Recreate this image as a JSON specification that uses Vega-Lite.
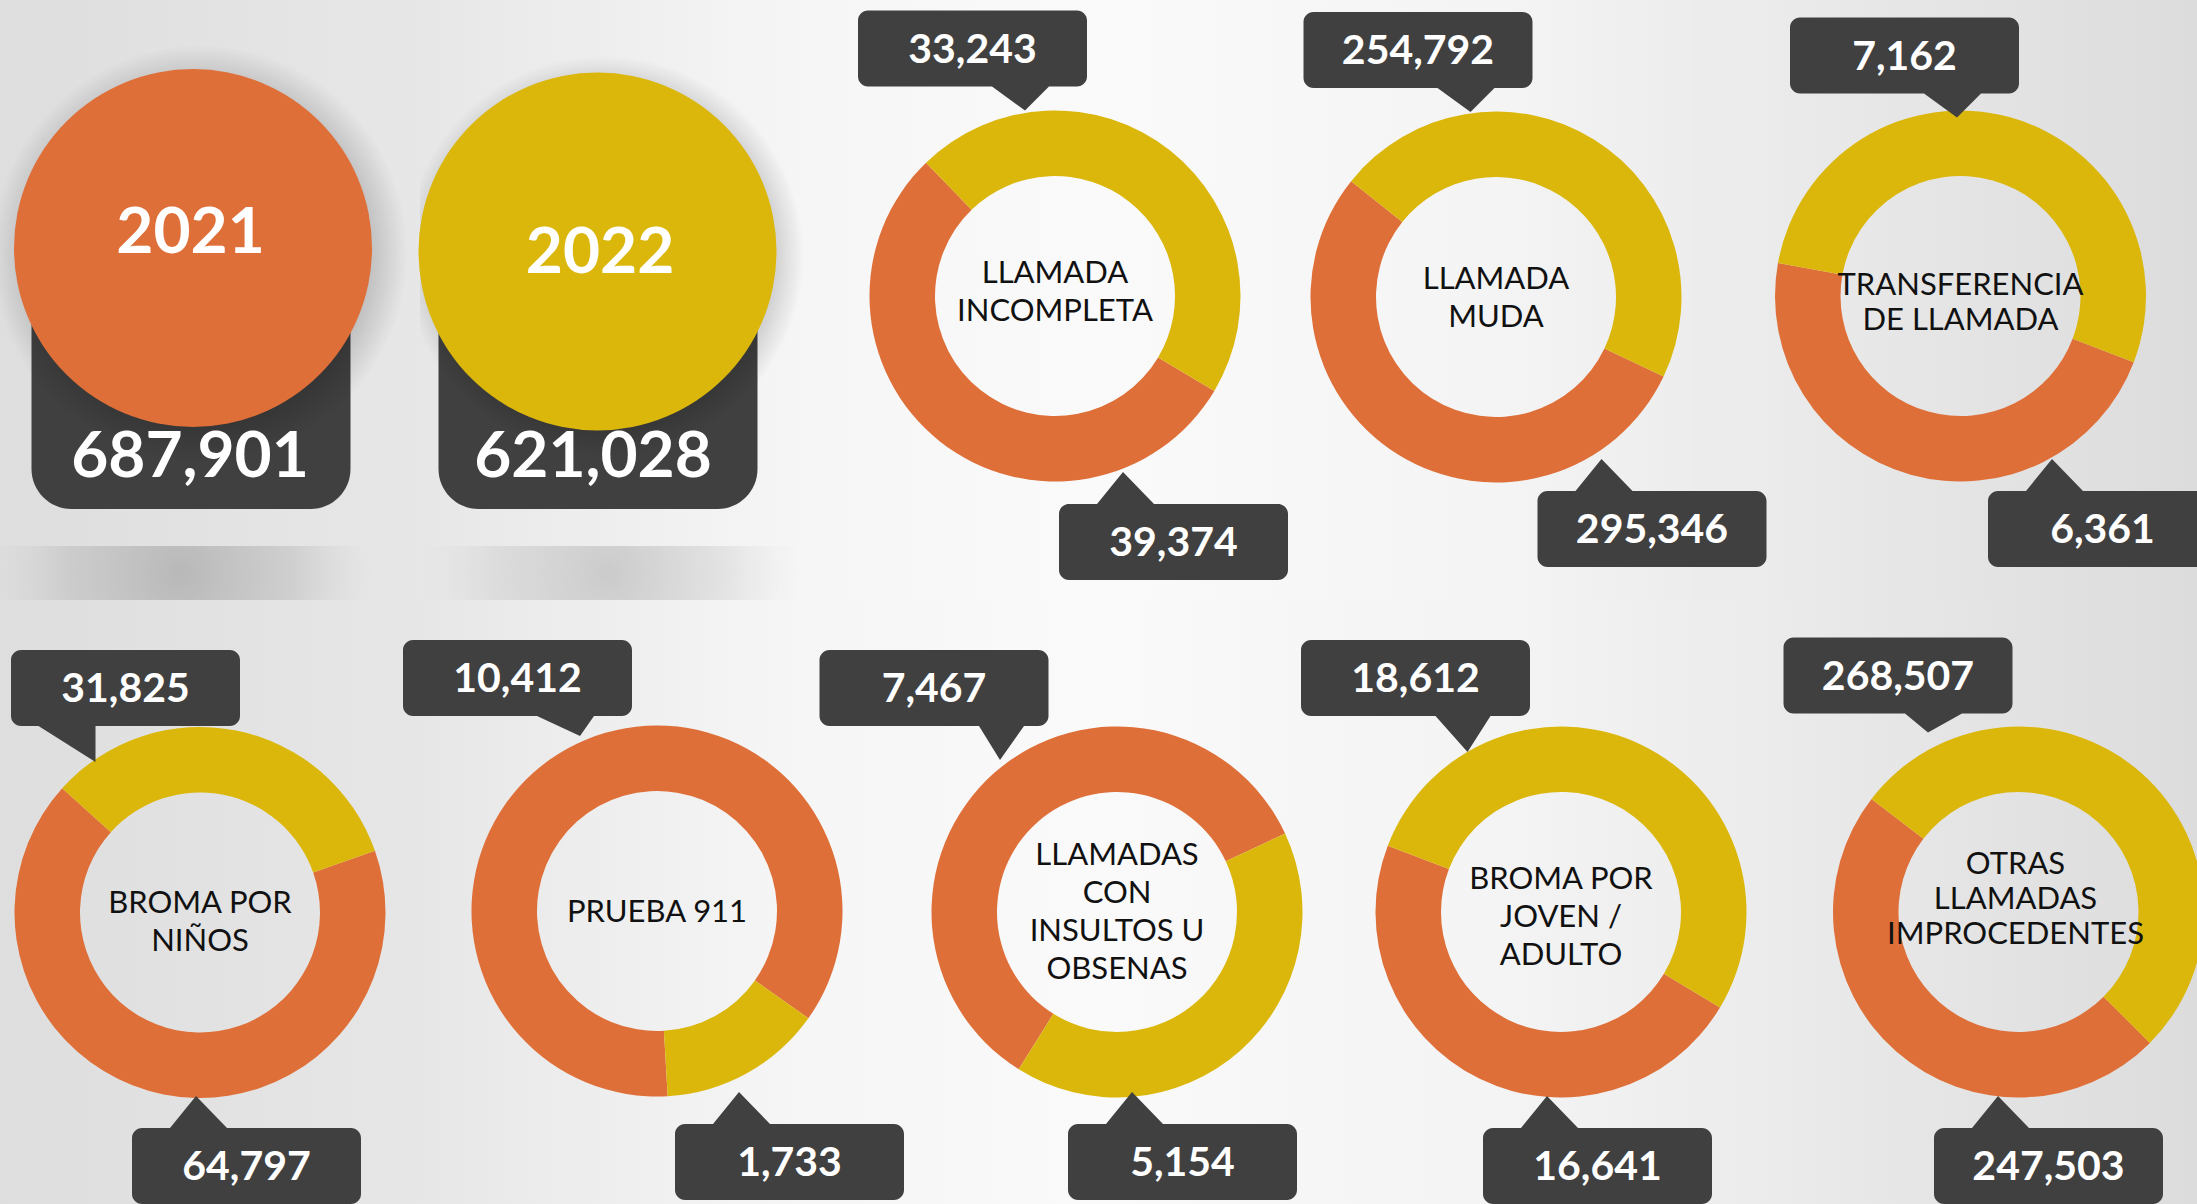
{
  "$schema": "https://vega.github.io/schema/vega-lite/v6.json",
  "padding": 0,
  "background": "#ececec",
  "spacing": 0,
  "config": {"view": {"stroke": null}, "text": {"font": "Lato"}},
  "datasets": {
    "llamadas": [
      {"tipo": "LLAMADA INCOMPLETA", "anio": "2021", "valor": 39374},
      {"tipo": "LLAMADA INCOMPLETA", "anio": "2022", "valor": 33243},
      {"tipo": "LLAMADA MUDA", "anio": "2021", "valor": 295346},
      {"tipo": "LLAMADA MUDA", "anio": "2022", "valor": 254792},
      {"tipo": "TRANSFERENCIA DE LLAMADA", "anio": "2021", "valor": 6361},
      {"tipo": "TRANSFERENCIA DE LLAMADA", "anio": "2022", "valor": 7162},
      {"tipo": "BROMA POR NIÑOS", "anio": "2021", "valor": 64797},
      {"tipo": "BROMA POR NIÑOS", "anio": "2022", "valor": 31825},
      {"tipo": "PRUEBA 911", "anio": "2021", "valor": 10412},
      {"tipo": "PRUEBA 911", "anio": "2022", "valor": 1733},
      {"tipo": "LLAMADAS CON INSULTOS U OBSENAS", "anio": "2021", "valor": 7467},
      {"tipo": "LLAMADAS CON INSULTOS U OBSENAS", "anio": "2022", "valor": 5154},
      {"tipo": "BROMA POR JOVEN / ADULTO", "anio": "2021", "valor": 16641},
      {"tipo": "BROMA POR JOVEN / ADULTO", "anio": "2022", "valor": 18612},
      {"tipo": "OTRAS LLAMADAS IMPROCEDENTES", "anio": "2021", "valor": 247503},
      {"tipo": "OTRAS LLAMADAS IMPROCEDENTES", "anio": "2022", "valor": 268507}
    ]
  },
  "resolve": {"scale": {"x": "independent", "y": "independent", "color": "independent", "shape": "independent", "theta": "independent"}},
  "vconcat": [
    {
      "spacing": 0,
      "bounds": "flush",
      "resolve": {"scale": {"x": "independent", "y": "independent", "color": "independent", "shape": "independent", "theta": "independent"}},
      "hconcat": [
        {
          "width": 420, "height": 600,
          "data": {"name": "llamadas"},
          "transform": [{"aggregate": [{"op": "sum", "field": "valor", "as": "total"}], "groupby": ["anio"]}, {"filter": "datum.anio === '2021'"}],
          "layer": [
            {"mark": {"type": "rect", "fill": {"gradient": "linear", "x1": 0, "y1": 0, "x2": 1, "y2": 0, "stops": [{"offset": 0, "color": "#dedede"}, {"offset": 1, "color": "#e7e7e7"}]}}},
            {"mark": {"type": "point", "clip": true, "shape": "M -1.9 -0.27 L 1.9 -0.27 L 1.9 0.27 L -1.9 0.27 Z", "size": 40000, "filled": true, "opacity": 1, "strokeWidth": 0, "xOffset": -29, "yOffset": 273, "fill": {"gradient": "radial", "x1": 0.5, "y1": 0.5, "r1": 0, "x2": 0.5, "y2": 0.5, "r2": 0.5, "stops": [{"offset": 0, "color": "rgba(150,150,150,0.55)"}, {"offset": 0.6, "color": "rgba(160,160,160,0.3)"}, {"offset": 1, "color": "rgba(190,190,190,0)"}]}}},
            {"mark": {"type": "point", "shape": "M -1.595 -1.045 L 1.595 -1.045 L 1.595 0.645 A 0.4 0.4 0 0 1 1.195 1.045 L -1.195 1.045 A 0.4 0.4 0 0 1 -1.595 0.645 Z", "size": 40000, "filled": true, "color": "#404040", "opacity": 1, "strokeWidth": 0, "xOffset": -19, "yOffset": 104.5}},
            {"mark": {"type": "point", "clip": true, "shape": "circle", "size": 173056, "filled": true, "opacity": 1, "strokeWidth": 0, "xOffset": -10, "yOffset": -47, "fill": {"gradient": "radial", "x1": 0.5, "y1": 0.5, "r1": 0, "x2": 0.5, "y2": 0.5, "r2": 0.5, "stops": [{"offset": 0, "color": "rgba(0,0,0,0.2)"}, {"offset": 0.82, "color": "rgba(0,0,0,0.16)"}, {"offset": 1, "color": "rgba(0,0,0,0)"}]}}},
            {"mark": {"type": "point", "shape": "circle", "size": 128164, "filled": true, "color": "#df6f38", "opacity": 1, "strokeWidth": 0, "xOffset": -17, "yOffset": -52}},
            {"mark": {"type": "text", "fontSize": 64, "fontWeight": "bold", "fill": "#ffffff", "align": "center", "baseline": "middle", "xOffset": -19.5, "yOffset": -66}, "encoding": {"text": {"field": "anio", "type": "nominal"}}},
            {"mark": {"type": "text", "fontSize": 64, "fontWeight": "bold", "fill": "#ffffff", "align": "center", "baseline": "middle", "xOffset": -20, "yOffset": 158}, "encoding": {"text": {"field": "total", "type": "quantitative", "format": ","}}}
          ]
        },
        {
          "width": 388, "height": 600,
          "data": {"name": "llamadas"},
          "transform": [{"aggregate": [{"op": "sum", "field": "valor", "as": "total"}], "groupby": ["anio"]}, {"filter": "datum.anio === '2022'"}],
          "layer": [
            {"mark": {"type": "rect", "fill": {"gradient": "linear", "x1": 0, "y1": 0, "x2": 1, "y2": 0, "stops": [{"offset": 0, "color": "#e7e7e7"}, {"offset": 1, "color": "#f6f6f6"}]}}},
            {"mark": {"type": "point", "clip": true, "shape": "M -1.9 -0.27 L 1.9 -0.27 L 1.9 0.27 L -1.9 0.27 Z", "size": 40000, "filled": true, "opacity": 1, "strokeWidth": 0, "xOffset": -4, "yOffset": 273, "fill": {"gradient": "radial", "x1": 0.5, "y1": 0.5, "r1": 0, "x2": 0.5, "y2": 0.5, "r2": 0.5, "stops": [{"offset": 0, "color": "rgba(160,160,160,0.45)"}, {"offset": 0.6, "color": "rgba(170,170,170,0.22)"}, {"offset": 1, "color": "rgba(200,200,200,0)"}]}}},
            {"mark": {"type": "point", "shape": "M -1.595 -1.045 L 1.595 -1.045 L 1.595 0.645 A 0.4 0.4 0 0 1 1.195 1.045 L -1.195 1.045 A 0.4 0.4 0 0 1 -1.595 0.645 Z", "size": 40000, "filled": true, "color": "#404040", "opacity": 1, "strokeWidth": 0, "xOffset": -16, "yOffset": 104.5}},
            {"mark": {"type": "point", "clip": true, "shape": "circle", "size": 160000, "filled": true, "opacity": 1, "strokeWidth": 0, "xOffset": -10, "yOffset": -44, "fill": {"gradient": "radial", "x1": 0.5, "y1": 0.5, "r1": 0, "x2": 0.5, "y2": 0.5, "r2": 0.5, "stops": [{"offset": 0, "color": "rgba(0,0,0,0.2)"}, {"offset": 0.86, "color": "rgba(0,0,0,0.14)"}, {"offset": 1, "color": "rgba(0,0,0,0)"}]}}},
            {"mark": {"type": "point", "shape": "circle", "size": 128164, "filled": true, "color": "#dbb70c", "opacity": 1, "strokeWidth": 0, "xOffset": -16.5, "yOffset": -48.5}},
            {"mark": {"type": "text", "fontSize": 64, "fontWeight": "bold", "fill": "#ffffff", "align": "center", "baseline": "middle", "xOffset": -14, "yOffset": -46}, "encoding": {"text": {"field": "anio", "type": "nominal"}}},
            {"mark": {"type": "text", "fontSize": 64, "fontWeight": "bold", "fill": "#ffffff", "align": "center", "baseline": "middle", "xOffset": -21, "yOffset": 158}, "encoding": {"text": {"field": "total", "type": "quantitative", "format": ","}}}
          ]
        },
        {
          "width": 494, "height": 600,
          "data": {"name": "llamadas"},
          "transform": [{"filter": "datum.tipo === 'LLAMADA INCOMPLETA'"}],
          "layer": [
            {"transform": [{"filter": "datum.anio === '2021'"}], "mark": {"type": "rect", "fill": {"gradient": "linear", "x1": 0, "y1": 0, "x2": 1, "y2": 0, "stops": [{"offset": 0, "color": "#f6f6f6"}, {"offset": 0.59, "color": "#fafafa"}, {"offset": 1, "color": "#f7f7f7"}]}}},
            {"mark": {"type": "arc", "radius": 185.5, "radius2": 120, "yOffset": -4, "stroke": null}, "encoding": {"theta": {"field": "valor", "type": "quantitative", "stack": true, "scale": {"range": [2.108, 8.391]}}, "color": {"field": "anio", "type": "nominal", "legend": null, "scale": {"domain": ["2021", "2022"], "range": ["#df6f38", "#dbb70c"]}}, "order": {"field": "anio", "type": "ordinal"}}},
            {"transform": [{"filter": "datum.anio === '2021'"}], "mark": {"type": "text", "text": ["LLAMADA", "INCOMPLETA"], "fontSize": 31, "lineHeight": 38, "fill": "#111111", "align": "center", "baseline": "middle", "yOffset": -26}},
            {"mark": {"type": "point", "filled": true, "color": "#404040", "opacity": 1, "strokeWidth": 0, "size": 40000}, "encoding": {"x": {"field": "anio", "type": "nominal", "axis": null, "scale": {"type": "point", "domain": ["2022", "2021"], "range": [164.5, 365.5], "padding": 0}}, "y": {"field": "anio", "type": "nominal", "axis": null, "scale": {"type": "point", "domain": ["2022", "2021"], "range": [48.5, 542], "padding": 0}}, "shape": {"field": "anio", "type": "nominal", "legend": null, "scale": {"domain": ["2022", "2021"], "range": ["M -1.045 -0.38 L 1.045 -0.38 A 0.1 0.1 0 0 1 1.145 -0.28 L 1.145 0.28 A 0.1 0.1 0 0 1 1.045 0.38 L 0.765 0.38 L 0.525 0.62 L 0.195 0.38 L -1.045 0.38 A 0.1 0.1 0 0 1 -1.145 0.28 L -1.145 -0.28 A 0.1 0.1 0 0 1 -1.045 -0.38 Z", "M -1.045 -0.38 L -0.765 -0.38 L -0.505 -0.7 L -0.195 -0.38 L 1.045 -0.38 A 0.1 0.1 0 0 1 1.145 -0.28 L 1.145 0.28 A 0.1 0.1 0 0 1 1.045 0.38 L -1.045 0.38 A 0.1 0.1 0 0 1 -1.145 0.28 L -1.145 -0.28 A 0.1 0.1 0 0 1 -1.045 -0.38 Z"]}}}},
            {"mark": {"type": "text", "fontSize": 41, "fontWeight": "bold", "fill": "#ffffff", "align": "center", "baseline": "middle", "dy": 2}, "encoding": {"x": {"field": "anio", "type": "nominal"}, "y": {"field": "anio", "type": "nominal"}, "text": {"field": "valor", "type": "quantitative", "format": ","}}}
          ]
        },
        {
          "width": 388, "height": 600,
          "data": {"name": "llamadas"},
          "transform": [{"filter": "datum.tipo === 'LLAMADA MUDA'"}],
          "layer": [
            {"transform": [{"filter": "datum.anio === '2021'"}], "mark": {"type": "rect", "fill": {"gradient": "linear", "x1": 0, "y1": 0, "x2": 1, "y2": 0, "stops": [{"offset": 0, "color": "#f7f7f7"}, {"offset": 0.51, "color": "#f4f4f4"}, {"offset": 1, "color": "#ededed"}]}}},
            {"mark": {"type": "arc", "radius": 185.5, "radius2": 120, "yOffset": -3, "stroke": null}, "encoding": {"theta": {"field": "valor", "type": "quantitative", "stack": true, "scale": {"range": [2.014, 8.297]}}, "color": {"field": "anio", "type": "nominal", "legend": null, "scale": {"domain": ["2021", "2022"], "range": ["#df6f38", "#dbb70c"]}}, "order": {"field": "anio", "type": "ordinal"}}},
            {"transform": [{"filter": "datum.anio === '2021'"}], "mark": {"type": "text", "text": ["LLAMADA", "MUDA"], "fontSize": 31, "lineHeight": 38, "fill": "#111111", "align": "center", "baseline": "middle", "yOffset": -20}},
            {"mark": {"type": "point", "filled": true, "color": "#404040", "opacity": 1, "strokeWidth": 0, "size": 40000}, "encoding": {"x": {"field": "anio", "type": "nominal", "axis": null, "scale": {"type": "point", "domain": ["2022", "2021"], "range": [116, 350], "padding": 0}}, "y": {"field": "anio", "type": "nominal", "axis": null, "scale": {"type": "point", "domain": ["2022", "2021"], "range": [50, 529], "padding": 0}}, "shape": {"field": "anio", "type": "nominal", "legend": null, "scale": {"domain": ["2022", "2021"], "range": ["M -1.045 -0.38 L 1.045 -0.38 A 0.1 0.1 0 0 1 1.145 -0.28 L 1.145 0.28 A 0.1 0.1 0 0 1 1.045 0.38 L 0.765 0.38 L 0.525 0.62 L 0.195 0.38 L -1.045 0.38 A 0.1 0.1 0 0 1 -1.145 0.28 L -1.145 -0.28 A 0.1 0.1 0 0 1 -1.045 -0.38 Z", "M -1.045 -0.38 L -0.765 -0.38 L -0.505 -0.7 L -0.195 -0.38 L 1.045 -0.38 A 0.1 0.1 0 0 1 1.145 -0.28 L 1.145 0.28 A 0.1 0.1 0 0 1 1.045 0.38 L -1.045 0.38 A 0.1 0.1 0 0 1 -1.145 0.28 L -1.145 -0.28 A 0.1 0.1 0 0 1 -1.045 -0.38 Z"]}}}},
            {"mark": {"type": "text", "fontSize": 41, "fontWeight": "bold", "fill": "#ffffff", "align": "center", "baseline": "middle", "dy": 2}, "encoding": {"x": {"field": "anio", "type": "nominal"}, "y": {"field": "anio", "type": "nominal"}, "text": {"field": "valor", "type": "quantitative", "format": ","}}}
          ]
        },
        {
          "width": 507, "height": 600,
          "data": {"name": "llamadas"},
          "transform": [{"filter": "datum.tipo === 'TRANSFERENCIA DE LLAMADA'"}],
          "layer": [
            {"transform": [{"filter": "datum.anio === '2021'"}], "mark": {"type": "rect", "fill": {"gradient": "linear", "x1": 0, "y1": 0, "x2": 1, "y2": 0, "stops": [{"offset": 0, "color": "rgba(236,236,236,0)"}, {"offset": 0.152, "color": "rgba(236,236,236,0)"}, {"offset": 0.153, "color": "#ebebeb"}, {"offset": 1, "color": "#dcdcdc"}]}}},
            {"mark": {"type": "arc", "radius": 185.5, "radius2": 120, "xOffset": 17, "yOffset": -4, "stroke": null}, "encoding": {"theta": {"field": "valor", "type": "quantitative", "stack": true, "scale": {"range": [1.936, 8.219]}}, "color": {"field": "anio", "type": "nominal", "legend": null, "scale": {"domain": ["2021", "2022"], "range": ["#df6f38", "#dbb70c"]}}, "order": {"field": "anio", "type": "ordinal"}}},
            {"transform": [{"filter": "datum.anio === '2021'"}], "mark": {"type": "text", "text": ["TRANSFERENCIA", "DE LLAMADA"], "fontSize": 31, "lineHeight": 35, "fill": "#111111", "align": "center", "baseline": "middle", "xOffset": 17, "yOffset": -14.5}},
            {"mark": {"type": "point", "filled": true, "color": "#404040", "opacity": 1, "strokeWidth": 0, "size": 40000, "clip": true}, "encoding": {"x": {"field": "anio", "type": "nominal", "axis": null, "scale": {"type": "point", "domain": ["2022", "2021"], "range": [214.5, 412.5], "padding": 0}}, "y": {"field": "anio", "type": "nominal", "axis": null, "scale": {"type": "point", "domain": ["2022", "2021"], "range": [55.5, 529], "padding": 0}}, "shape": {"field": "anio", "type": "nominal", "legend": null, "scale": {"domain": ["2022", "2021"], "range": ["M -1.045 -0.38 L 1.045 -0.38 A 0.1 0.1 0 0 1 1.145 -0.28 L 1.145 0.28 A 0.1 0.1 0 0 1 1.045 0.38 L 0.765 0.38 L 0.525 0.62 L 0.195 0.38 L -1.045 0.38 A 0.1 0.1 0 0 1 -1.145 0.28 L -1.145 -0.28 A 0.1 0.1 0 0 1 -1.045 -0.38 Z", "M -1.045 -0.38 L -0.765 -0.38 L -0.505 -0.7 L -0.195 -0.38 L 1.045 -0.38 A 0.1 0.1 0 0 1 1.145 -0.28 L 1.145 0.28 A 0.1 0.1 0 0 1 1.045 0.38 L -1.045 0.38 A 0.1 0.1 0 0 1 -1.145 0.28 L -1.145 -0.28 A 0.1 0.1 0 0 1 -1.045 -0.38 Z"]}}}},
            {"mark": {"type": "text", "fontSize": 41, "fontWeight": "bold", "fill": "#ffffff", "align": "center", "baseline": "middle", "dy": 2, "clip": true}, "encoding": {"x": {"field": "anio", "type": "nominal"}, "y": {"field": "anio", "type": "nominal"}, "text": {"field": "valor", "type": "quantitative", "format": ","}}}
          ]
        }
      ]
    },
    {
      "spacing": 0,
      "bounds": "flush",
      "resolve": {"scale": {"x": "independent", "y": "independent", "color": "independent", "shape": "independent", "theta": "independent"}},
      "hconcat": [
        {
          "width": 400, "height": 604,
          "data": {"name": "llamadas"},
          "transform": [{"filter": "datum.tipo === 'BROMA POR NIÑOS'"}],
          "layer": [
            {"transform": [{"filter": "datum.anio === '2021'"}], "mark": {"type": "rect", "fill": {"gradient": "linear", "x1": 0, "y1": 0, "x2": 1, "y2": 0, "stops": [{"offset": 0, "color": "#dedede"}, {"offset": 1, "color": "#e6e6e6"}]}}},
            {"mark": {"type": "arc", "radius": 185.5, "radius2": 120, "yOffset": 10.5, "stroke": null}, "encoding": {"theta": {"field": "valor", "type": "quantitative", "stack": true, "scale": {"range": [1.232, 7.515]}}, "color": {"field": "anio", "type": "nominal", "legend": null, "scale": {"domain": ["2021", "2022"], "range": ["#df6f38", "#dbb70c"]}}, "order": {"field": "anio", "type": "ordinal"}}},
            {"transform": [{"filter": "datum.anio === '2021'"}], "mark": {"type": "text", "text": ["BROMA POR", "NIÑOS"], "fontSize": 31, "lineHeight": 38, "fill": "#111111", "align": "center", "baseline": "middle", "yOffset": 2}},
            {"mark": {"type": "point", "filled": true, "color": "#404040", "opacity": 1, "strokeWidth": 0, "size": 40000}, "encoding": {"x": {"field": "anio", "type": "nominal", "axis": null, "scale": {"type": "point", "domain": ["2022", "2021"], "range": [125.5, 246.5], "padding": 0}}, "y": {"field": "anio", "type": "nominal", "axis": null, "scale": {"type": "point", "domain": ["2022", "2021"], "range": [88, 566], "padding": 0}}, "shape": {"field": "anio", "type": "nominal", "legend": null, "scale": {"domain": ["2022", "2021"], "range": ["M -1.045 -0.38 L 1.045 -0.38 A 0.1 0.1 0 0 1 1.145 -0.28 L 1.145 0.28 A 0.1 0.1 0 0 1 1.045 0.38 L -0.3 0.38 L -0.3 0.74 L -0.87 0.38 L -1.045 0.38 A 0.1 0.1 0 0 1 -1.145 0.28 L -1.145 -0.28 A 0.1 0.1 0 0 1 -1.045 -0.38 Z", "M -1.045 -0.38 L -0.765 -0.38 L -0.505 -0.7 L -0.195 -0.38 L 1.045 -0.38 A 0.1 0.1 0 0 1 1.145 -0.28 L 1.145 0.28 A 0.1 0.1 0 0 1 1.045 0.38 L -1.045 0.38 A 0.1 0.1 0 0 1 -1.145 0.28 L -1.145 -0.28 A 0.1 0.1 0 0 1 -1.045 -0.38 Z"]}}}},
            {"mark": {"type": "text", "fontSize": 41, "fontWeight": "bold", "fill": "#ffffff", "align": "center", "baseline": "middle", "dy": 2}, "encoding": {"x": {"field": "anio", "type": "nominal"}, "y": {"field": "anio", "type": "nominal"}, "text": {"field": "valor", "type": "quantitative", "format": ","}}}
          ]
        },
        {
          "width": 514, "height": 604,
          "data": {"name": "llamadas"},
          "transform": [{"filter": "datum.tipo === 'PRUEBA 911'"}],
          "layer": [
            {"transform": [{"filter": "datum.anio === '2021'"}], "mark": {"type": "rect", "fill": {"gradient": "linear", "x1": 0, "y1": 0, "x2": 1, "y2": 0, "stops": [{"offset": 0, "color": "#e6e6e6"}, {"offset": 0.78, "color": "#f6f6f6"}, {"offset": 1, "color": "#f7f7f7"}]}}},
            {"mark": {"type": "arc", "radius": 185.5, "radius2": 120, "yOffset": 9, "stroke": null}, "encoding": {"theta": {"field": "valor", "type": "quantitative", "stack": true, "scale": {"range": [3.084, 9.367]}}, "color": {"field": "anio", "type": "nominal", "legend": null, "scale": {"domain": ["2021", "2022"], "range": ["#df6f38", "#dbb70c"]}}, "order": {"field": "anio", "type": "ordinal"}}},
            {"transform": [{"filter": "datum.anio === '2021'"}], "mark": {"type": "text", "text": "PRUEBA 911", "fontSize": 31, "fill": "#111111", "align": "center", "baseline": "middle", "yOffset": 11}},
            {"mark": {"type": "point", "filled": true, "color": "#404040", "opacity": 1, "strokeWidth": 0, "size": 40000}, "encoding": {"x": {"field": "anio", "type": "nominal", "axis": null, "scale": {"type": "point", "domain": ["2021", "2022"], "range": [117.5, 389.5], "padding": 0}}, "y": {"field": "anio", "type": "nominal", "axis": null, "scale": {"type": "point", "domain": ["2021", "2022"], "range": [78, 562], "padding": 0}}, "shape": {"field": "anio", "type": "nominal", "legend": null, "scale": {"domain": ["2021", "2022"], "range": ["M -1.045 -0.38 L 1.045 -0.38 A 0.1 0.1 0 0 1 1.145 -0.28 L 1.145 0.28 A 0.1 0.1 0 0 1 1.045 0.38 L 0.765 0.38 L 0.625 0.58 L 0.195 0.38 L -1.045 0.38 A 0.1 0.1 0 0 1 -1.145 0.28 L -1.145 -0.28 A 0.1 0.1 0 0 1 -1.045 -0.38 Z", "M -1.045 -0.38 L -0.765 -0.38 L -0.505 -0.7 L -0.195 -0.38 L 1.045 -0.38 A 0.1 0.1 0 0 1 1.145 -0.28 L 1.145 0.28 A 0.1 0.1 0 0 1 1.045 0.38 L -1.045 0.38 A 0.1 0.1 0 0 1 -1.145 0.28 L -1.145 -0.28 A 0.1 0.1 0 0 1 -1.045 -0.38 Z"]}}}},
            {"mark": {"type": "text", "fontSize": 41, "fontWeight": "bold", "fill": "#ffffff", "align": "center", "baseline": "middle", "dy": 2}, "encoding": {"x": {"field": "anio", "type": "nominal"}, "y": {"field": "anio", "type": "nominal"}, "text": {"field": "valor", "type": "quantitative", "format": ","}}}
          ]
        },
        {
          "width": 406, "height": 604,
          "data": {"name": "llamadas"},
          "transform": [{"filter": "datum.tipo === 'LLAMADAS CON INSULTOS U OBSENAS'"}],
          "layer": [
            {"transform": [{"filter": "datum.anio === '2021'"}], "mark": {"type": "rect", "fill": {"gradient": "linear", "x1": 0, "y1": 0, "x2": 1, "y2": 0, "stops": [{"offset": 0, "color": "#f7f7f7"}, {"offset": 0.46, "color": "#fafafa"}, {"offset": 1, "color": "#f6f6f6"}]}}},
            {"mark": {"type": "arc", "radius": 185.5, "radius2": 120, "yOffset": 10, "stroke": null}, "encoding": {"theta": {"field": "valor", "type": "quantitative", "stack": true, "scale": {"range": [3.7, 9.983]}}, "color": {"field": "anio", "type": "nominal", "legend": null, "scale": {"domain": ["2021", "2022"], "range": ["#df6f38", "#dbb70c"]}}, "order": {"field": "anio", "type": "ordinal"}}},
            {"transform": [{"filter": "datum.anio === '2021'"}], "mark": {"type": "text", "text": ["LLAMADAS", "CON", "INSULTOS U", "OBSENAS"], "fontSize": 31, "lineHeight": 38, "fill": "#111111", "align": "center", "baseline": "middle", "yOffset": -46}},
            {"mark": {"type": "point", "filled": true, "color": "#404040", "opacity": 1, "strokeWidth": 0, "size": 40000}, "encoding": {"x": {"field": "anio", "type": "nominal", "axis": null, "scale": {"type": "point", "domain": ["2021", "2022"], "range": [20, 268.5], "padding": 0}}, "y": {"field": "anio", "type": "nominal", "axis": null, "scale": {"type": "point", "domain": ["2021", "2022"], "range": [88, 562], "padding": 0}}, "shape": {"field": "anio", "type": "nominal", "legend": null, "scale": {"domain": ["2021", "2022"], "range": ["M -1.045 -0.38 L 1.045 -0.38 A 0.1 0.1 0 0 1 1.145 -0.28 L 1.145 0.28 A 0.1 0.1 0 0 1 1.045 0.38 L 0.9 0.38 L 0.66 0.72 L 0.45 0.38 L -1.045 0.38 A 0.1 0.1 0 0 1 -1.145 0.28 L -1.145 -0.28 A 0.1 0.1 0 0 1 -1.045 -0.38 Z", "M -1.045 -0.38 L -0.765 -0.38 L -0.505 -0.7 L -0.195 -0.38 L 1.045 -0.38 A 0.1 0.1 0 0 1 1.145 -0.28 L 1.145 0.28 A 0.1 0.1 0 0 1 1.045 0.38 L -1.045 0.38 A 0.1 0.1 0 0 1 -1.145 0.28 L -1.145 -0.28 A 0.1 0.1 0 0 1 -1.045 -0.38 Z"]}}}},
            {"mark": {"type": "text", "fontSize": 41, "fontWeight": "bold", "fill": "#ffffff", "align": "center", "baseline": "middle", "dy": 2}, "encoding": {"x": {"field": "anio", "type": "nominal"}, "y": {"field": "anio", "type": "nominal"}, "text": {"field": "valor", "type": "quantitative", "format": ","}}}
          ]
        },
        {
          "width": 482, "height": 604,
          "data": {"name": "llamadas"},
          "transform": [{"filter": "datum.tipo === 'BROMA POR JOVEN / ADULTO'"}],
          "layer": [
            {"transform": [{"filter": "datum.anio === '2021'"}], "mark": {"type": "rect", "fill": {"gradient": "linear", "x1": 0, "y1": 0, "x2": 1, "y2": 0, "stops": [{"offset": 0, "color": "#f6f6f6"}, {"offset": 0.37, "color": "#f4f4f4"}, {"offset": 1, "color": "#eaeaea"}]}}},
            {"mark": {"type": "arc", "radius": 185.5, "radius2": 120, "yOffset": 10, "stroke": null}, "encoding": {"theta": {"field": "valor", "type": "quantitative", "stack": true, "scale": {"range": [2.112, 8.395]}}, "color": {"field": "anio", "type": "nominal", "legend": null, "scale": {"domain": ["2021", "2022"], "range": ["#df6f38", "#dbb70c"]}}, "order": {"field": "anio", "type": "ordinal"}}},
            {"transform": [{"filter": "datum.anio === '2021'"}], "mark": {"type": "text", "text": ["BROMA POR", "JOVEN /", "ADULTO"], "fontSize": 31, "lineHeight": 38, "fill": "#111111", "align": "center", "baseline": "middle", "yOffset": -22}},
            {"mark": {"type": "point", "filled": true, "color": "#404040", "opacity": 1, "strokeWidth": 0, "size": 40000}, "encoding": {"x": {"field": "anio", "type": "nominal", "axis": null, "scale": {"type": "point", "domain": ["2022", "2021"], "range": [95.5, 277.5], "padding": 0}}, "y": {"field": "anio", "type": "nominal", "axis": null, "scale": {"type": "point", "domain": ["2022", "2021"], "range": [78, 566], "padding": 0}}, "shape": {"field": "anio", "type": "nominal", "legend": null, "scale": {"domain": ["2022", "2021"], "range": ["M -1.045 -0.38 L 1.045 -0.38 A 0.1 0.1 0 0 1 1.145 -0.28 L 1.145 0.28 A 0.1 0.1 0 0 1 1.045 0.38 L 0.75 0.38 L 0.52 0.74 L 0.2 0.38 L -1.045 0.38 A 0.1 0.1 0 0 1 -1.145 0.28 L -1.145 -0.28 A 0.1 0.1 0 0 1 -1.045 -0.38 Z", "M -1.045 -0.38 L -0.765 -0.38 L -0.505 -0.7 L -0.195 -0.38 L 1.045 -0.38 A 0.1 0.1 0 0 1 1.145 -0.28 L 1.145 0.28 A 0.1 0.1 0 0 1 1.045 0.38 L -1.045 0.38 A 0.1 0.1 0 0 1 -1.145 0.28 L -1.145 -0.28 A 0.1 0.1 0 0 1 -1.045 -0.38 Z"]}}}},
            {"mark": {"type": "text", "fontSize": 41, "fontWeight": "bold", "fill": "#ffffff", "align": "center", "baseline": "middle", "dy": 2}, "encoding": {"x": {"field": "anio", "type": "nominal"}, "y": {"field": "anio", "type": "nominal"}, "text": {"field": "valor", "type": "quantitative", "format": ","}}}
          ]
        },
        {
          "width": 395, "height": 604,
          "data": {"name": "llamadas"},
          "transform": [{"filter": "datum.tipo === 'OTRAS LLAMADAS IMPROCEDENTES'"}],
          "layer": [
            {"transform": [{"filter": "datum.anio === '2021'"}], "mark": {"type": "rect", "fill": {"gradient": "linear", "x1": 0, "y1": 0, "x2": 1, "y2": 0, "stops": [{"offset": 0, "color": "#eaeaea"}, {"offset": 1, "color": "#dcdcdc"}]}}},
            {"mark": {"type": "arc", "radius": 185.5, "radius2": 120, "xOffset": 19, "yOffset": 10, "stroke": null}, "encoding": {"theta": {"field": "valor", "type": "quantitative", "stack": true, "scale": {"range": [2.354, 8.638]}}, "color": {"field": "anio", "type": "nominal", "legend": null, "scale": {"domain": ["2021", "2022"], "range": ["#df6f38", "#dbb70c"]}}, "order": {"field": "anio", "type": "ordinal"}}},
            {"transform": [{"filter": "datum.anio === '2021'"}], "mark": {"type": "text", "text": ["OTRAS", "LLAMADAS", "IMPROCEDENTES"], "fontSize": 31, "lineHeight": 35, "fill": "#111111", "align": "center", "baseline": "middle", "xOffset": 16, "yOffset": -37}},
            {"mark": {"type": "point", "filled": true, "color": "#404040", "opacity": 1, "strokeWidth": 0, "size": 40000}, "encoding": {"x": {"field": "anio", "type": "nominal", "axis": null, "scale": {"type": "point", "domain": ["2022", "2021"], "range": [96, 246.5], "padding": 0}}, "y": {"field": "anio", "type": "nominal", "axis": null, "scale": {"type": "point", "domain": ["2022", "2021"], "range": [75.5, 566], "padding": 0}}, "shape": {"field": "anio", "type": "nominal", "legend": null, "scale": {"domain": ["2022", "2021"], "range": ["M -1.045 -0.38 L 1.045 -0.38 A 0.1 0.1 0 0 1 1.145 -0.28 L 1.145 0.28 A 0.1 0.1 0 0 1 1.045 0.38 L 0.64 0.38 L 0.3 0.57 L 0.07 0.38 L -1.045 0.38 A 0.1 0.1 0 0 1 -1.145 0.28 L -1.145 -0.28 A 0.1 0.1 0 0 1 -1.045 -0.38 Z", "M -1.045 -0.38 L -0.765 -0.38 L -0.505 -0.7 L -0.195 -0.38 L 1.045 -0.38 A 0.1 0.1 0 0 1 1.145 -0.28 L 1.145 0.28 A 0.1 0.1 0 0 1 1.045 0.38 L -1.045 0.38 A 0.1 0.1 0 0 1 -1.145 0.28 L -1.145 -0.28 A 0.1 0.1 0 0 1 -1.045 -0.38 Z"]}}}},
            {"mark": {"type": "text", "fontSize": 41, "fontWeight": "bold", "fill": "#ffffff", "align": "center", "baseline": "middle", "dy": 2}, "encoding": {"x": {"field": "anio", "type": "nominal"}, "y": {"field": "anio", "type": "nominal"}, "text": {"field": "valor", "type": "quantitative", "format": ","}}}
          ]
        }
      ]
    }
  ]
}
